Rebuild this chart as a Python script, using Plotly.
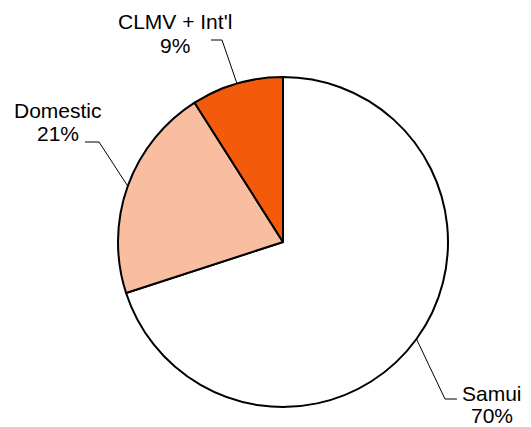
import math
import plotly.graph_objects as go

labels = ["Samui", "Domestic", "CLMV + Int'l"]
values = [70, 21, 9]
colors = ["#FFFFFF", "#F9BE9F", "#F45A0C"]

W, H = 531, 427
CX, CY, R = 283, 242, 165

# label positions: (x centre, name y centre, percent y centre) in pixels
label_pos = {"Samui": (492, 393, 415), "Domestic": (58, 110, 133), "CLMV + Int'l": (175, 21, 45)}
elbows = {"Samui": [(445, 399), (457, 399)],
          "Domestic": [(99, 142), (85, 142)],
          "CLMV + Int'l": [(222, 40), (211, 40)]}

def px(x):
    return x / W

def py(y):
    return 1 - y / H

fig = go.Figure(go.Pie(
    labels=labels, values=values, sort=False, direction="clockwise", rotation=0,
    marker=dict(colors=colors, line=dict(color="black", width=2)),
    textinfo="none", hoverinfo="label+percent", showlegend=False,
    domain=dict(x=[px(CX - R), px(CX + R)], y=[py(CY + R), py(CY - R)]),
))

font = dict(family="Liberation Sans, Arial", size=21, color="black")
total = sum(values)
cum = 0
shapes = []
annotations = []
for lab, v in zip(labels, values):
    mid = (cum + v / 2) / total * 2 * math.pi
    cum += v
    sx = CX + R * math.sin(mid)
    sy = CY - R * math.cos(mid)
    pts = [(sx, sy)] + elbows[lab]
    path = "M " + " L ".join(f"{px(x)},{py(y)}" for x, y in pts)
    shapes.append(dict(type="path", xref="paper", yref="paper", path=path,
                       line=dict(color="black", width=1)))
    lx, ny, py_ = label_pos[lab]
    pct = round(v / total * 100)
    for txt, yy in ((lab, ny), (f"{pct}%", py_)):
        annotations.append(dict(x=px(lx), y=py(yy), xref="paper", yref="paper",
                                text=txt, showarrow=False,
                                xanchor="center", yanchor="middle", align="center",
                                font=font))

fig.update_layout(width=W, height=H, margin=dict(l=0, r=0, t=0, b=0),
                  paper_bgcolor="white", plot_bgcolor="white",
                  shapes=shapes, annotations=annotations)
fig.write_html("out.html", config={"displayModeBar": False},
               post_script="document.body.style.margin='0';document.body.style.overflow='hidden';")
